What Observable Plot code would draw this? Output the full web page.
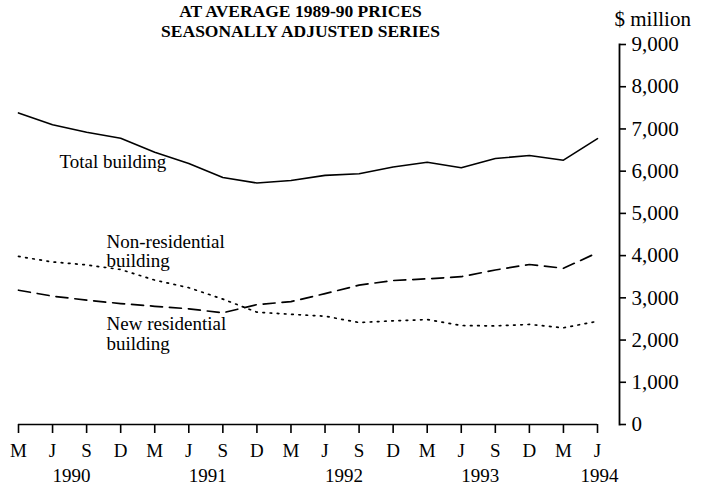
<!DOCTYPE html>
<html><head><meta charset="utf-8">
<script src="https://cdn.jsdelivr.net/npm/d3@7"></script>
<script src="https://cdn.jsdelivr.net/npm/@observablehq/plot@0.6"></script>
<style>
body{margin:0;background:#fff;}
#chart{position:relative;width:701px;height:485px;overflow:hidden;}
</style></head><body><div id="chart"></div>
<script>
// Quarter labels (month initials) and their calendar years
const quarters = ["M","J","S","D","M","J","S","D","M","J","S","D","M","J","S","D","M","J"];
const quarterYears = [1990,1990,1990,1990,1991,1991,1991,1991,1992,1992,1992,1992,1993,1993,1993,1993,1994,1994];
// $ million, at average 1989-90 prices, seasonally adjusted
const totalBuilding = [7380,7100,6920,6780,6450,6180,5850,5720,5780,5900,5940,6100,6210,6080,6300,6370,6260,6770];
const nonResidential = [3980,3850,3780,3670,3420,3240,2970,2660,2610,2565,2415,2455,2485,2345,2335,2370,2290,2445];
const newResidential = [3180,3040,2945,2865,2800,2740,2645,2840,2910,3100,3300,3410,3450,3500,3660,3790,3700,4070];
const yTicks = [0,1000,2000,3000,4000,5000,6000,7000,8000,9000];
const titleLines = ["AT AVERAGE 1989-90 PRICES", "SEASONALLY ADJUSTED SERIES"];
const unitLabel = "$ million";

const data = quarters.map((q, i) => ({
  i, q, year: quarterYears[i],
  total: totalBuilding[i], nonres: nonResidential[i], newres: newResidential[i]
}));
const last = data.length - 1;

// year labels: centred between June and September of each year, or under the last quarter
const yearLabels = Array.from(new Set(quarterYears)).map(y => {
  const idx = data.filter(d => d.year === y && (d.q === "J" || d.q === "S")).map(d => d.i);
  const pos = idx.length === 2 ? d3.mean(idx) : d3.max(data.filter(d => d.year === y), d => d.i);
  return {year: String(y), x: pos};
});

const serif = "'Liberation Serif','Times New Roman',serif";

const chart = Plot.plot({
  width: 701, height: 485,
  marginTop: 44, marginBottom: 61, marginLeft: 18, marginRight: 82,
  x: {type: "linear", domain: [0, last], range: [18, 597]},
  y: {domain: [0, 9000]},
  style: {fontFamily: serif, fontSize: "19px", color: "black", background: "white", overflow: "visible"},
  marks: [
    // bottom time axis
    Plot.ruleY([0], {x1: 0, x2: last, stroke: "black", strokeWidth: 1.6}),
    Plot.axisX({ticks: data.map(d => d.i), tickFormat: i => quarters[i], tickSize: 9, tickPadding: 10,
                strokeWidth: 1.6, fontSize: 19, label: null}),
    Plot.text(yearLabels, {x: "x", text: "year", frameAnchor: "bottom", dy: 57, dx: 2, lineAnchor: "bottom", fontSize: 19}),
    // right value axis
    Plot.frame({anchor: "right", strokeWidth: 1.8}),
    Plot.axisY({anchor: "right", ticks: yTicks, tickFormat: d3.format(","), tickSize: 6, tickPadding: 6,
                strokeWidth: 1.6, fontSize: 21, label: null}),
    Plot.text([unitLabel], {frameAnchor: "top-right", dx: -5, dy: -19, textAnchor: "start", lineAnchor: "bottom", fontSize: 21}),
    // title
    Plot.text([titleLines.join("\n")], {frameAnchor: "top-left", dx: 282, dy: -8, textAnchor: "middle",
               lineAnchor: "bottom", lineHeight: 1.1, fontWeight: "bold", fontSize: 17.5}),
    // series
    Plot.lineY(data, {x: "i", y: "total", stroke: "black", strokeWidth: 1.6}),
    Plot.lineY(data, {x: "i", y: "nonres", stroke: "black", strokeWidth: 1.7, strokeDasharray: "1.6,5.6"}),
    Plot.lineY(data, {x: "i", y: "newres", stroke: "black", strokeWidth: 1.7, strokeDasharray: "12,7"}),
    // series labels
    Plot.text(["Total building"], {frameAnchor: "top-left", dx: 41, dy: 123, textAnchor: "start", lineAnchor: "bottom", fontSize: 19}),
    Plot.text(["Non-residential\nbuilding"], {frameAnchor: "top-left", dx: 88, dy: 222, textAnchor: "start", lineAnchor: "bottom", lineHeight: 1.0, fontSize: 19}),
    Plot.text(["New residential\nbuilding"], {frameAnchor: "top-left", dx: 88, dy: 305, textAnchor: "start", lineAnchor: "bottom", lineHeight: 1.05, fontSize: 19})
  ]
});
document.getElementById("chart").appendChild(chart);
</script></body></html>
